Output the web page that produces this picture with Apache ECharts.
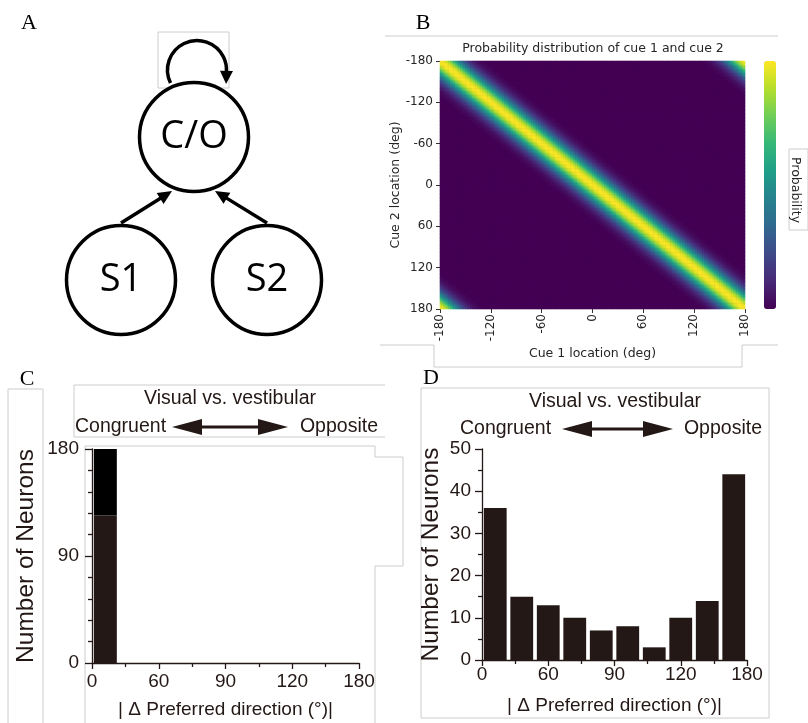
<!DOCTYPE html>
<html>
<head>
<meta charset="utf-8">
<script src="https://cdn.jsdelivr.net/npm/echarts@6/dist/echarts.min.js"></script>
<style>
  html, body { margin: 0; padding: 0; background: #fff; }
  #main { width: 808px; height: 723px; }
</style>
</head>
<body>
<div id="main"></div>
<script>
// ---- panel A: network diagram (positions in panel units) ----
const nodeNames = ['C/O', 'S1', 'S2'];
const nodeX = [194, 121, 267];
const nodeY = [137, 280, 280];
const edgeStarts = [[121, 223], [267, 223]];
const edgeEnds = [[172, 191], [215, 191]];
const selfLoop = [197, 70, 29.5, 154, 27]; // cx, cy, r, start deg, end deg

// ---- panel B: joint probability of cue 1 / cue 2 ----
const cueTicks = [-180, -120, -60, 0, 60, 120, 180];
const cellStep = 2;
// probability by circular |cue1 - cue2|, every 2 deg
const bandProfile = [1.00, 0.99, 0.97, 0.94, 0.89, 0.84, 0.78, 0.71, 0.64, 0.57,
  0.50, 0.43, 0.37, 0.31, 0.26, 0.21, 0.17, 0.13, 0.11, 0.08,
  0.06, 0.05, 0.03, 0.02, 0.02, 0.01];
const viridis = ['#440154', '#482878', '#3e4989', '#31688e', '#26828e',
  '#1f9e89', '#35b779', '#6ece58', '#b5de2b', '#fde725'];

// ---- panels C and D: histograms of |delta preferred direction| ----
const binEdges = [0, 18, 36, 54, 72, 90, 108, 126, 144, 162, 180];
const dirTickLabels = ['0', '60', '90', '120', '180'];
const countsC = [124, 0, 0, 0, 0, 0, 0, 0, 0, 0];
const clippedC = [56, 0, 0, 0, 0, 0, 0, 0, 0, 0];
const countsD = [36, 15, 13, 10, 7, 8, 3, 10, 14, 44];

const ink = '#231815';
const sans = 'Liberation Sans';
const mpl = 'DejaVu Sans';

// heatmap cells
const cueCells = [];
for (let v = -180 + cellStep / 2; v < 180; v += cellStep) cueCells.push(v);
const heatData = [];
cueCells.forEach(function (cx, i) {
  cueCells.forEach(function (cy, j) {
    let d = Math.abs(cx - cy) % 360;
    d = Math.min(d, 360 - d);
    const k = Math.round(d / cellStep);
    heatData.push([i, j, k < bandProfile.length ? bandProfile[k] : 0]);
  });
});

function binData(lows, highs) {
  return highs.map(function (h, i) {
    return [binEdges[i], binEdges[i + 1], lows[i], lows[i] + h];
  });
}
const zeros = countsD.map(function () { return 0; });

function renderBin(params, api) {
  const x0 = api.value(0), x1 = api.value(1);
  const pad = (x1 - x0) * 0.07;
  const p0 = api.coord([x0 + pad, api.value(3)]);
  const p1 = api.coord([x1 - pad, api.value(2)]);
  return {
    type: 'rect',
    shape: { x: p0[0], y: p0[1], width: p1[0] - p0[0], height: p1[1] - p0[1] },
    style: api.style()
  };
}

function arrowHead(tip, ang, len, half) {
  const bx = tip[0] - len * Math.cos(ang), by = tip[1] - len * Math.sin(ang);
  const nx = -Math.sin(ang), ny = Math.cos(ang);
  return {
    type: 'polygon',
    shape: { points: [tip, [bx + nx * half, by + ny * half], [bx - nx * half, by - ny * half]] },
    style: { fill: '#000' }
  };
}

function renderEdge(params, api) {
  const a = api.coord([api.value(0), api.value(1)]);
  const b = api.coord([api.value(2), api.value(3)]);
  const ang = Math.atan2(b[1] - a[1], b[0] - a[0]);
  const len = 14;
  return {
    type: 'group',
    children: [
      { type: 'line', shape: { x1: a[0], y1: a[1], x2: b[0] - len * 0.8 * Math.cos(ang), y2: b[1] - len * 0.8 * Math.sin(ang) },
        style: { stroke: '#000', lineWidth: 3.5 } },
      arrowHead(b, ang, len, 6.5)
    ]
  };
}

function renderLoop(params, api) {
  const c = api.coord([api.value(0), api.value(1)]);
  const r = api.size([api.value(2), 0])[0];
  const a0 = api.value(3) * Math.PI / 180;
  let a1 = api.value(4) * Math.PI / 180;
  if (a1 < a0) a1 += Math.PI * 2;
  const len = 13;
  const aBase = a1 - len / r;
  const base = [c[0] + r * Math.cos(aBase), c[1] + r * Math.sin(aBase)];
  const tang = aBase + Math.PI / 2;
  const tip = [base[0] + len * Math.cos(tang), base[1] + len * Math.sin(tang)];
  return {
    type: 'group',
    children: [
      { type: 'arc', shape: { cx: c[0], cy: c[1], r: r, startAngle: a0, endAngle: aBase + 0.05, clockwise: true },
        style: { stroke: '#000', lineWidth: 3.5, fill: null } },
      arrowHead(tip, tang, len, 6.5)
    ]
  };
}

function dirAxis(gridIndex, labelMargin, nameGap) {
  return {
    type: 'value', gridIndex: gridIndex, min: 0, max: 180, interval: 45,
    axisLine: { lineStyle: { color: ink, width: 1.3 } },
    axisTick: { length: 6, lineStyle: { color: ink, width: 1.3 } },
    minorTick: { show: true, splitNumber: 2, length: 4, lineStyle: { color: ink, width: 1.3 } },
    splitLine: { show: false }, minorSplitLine: { show: false },
    axisLabel: {
      formatter: function (v) { return dirTickLabels[Math.round(v / 45)]; },
      fontSize: 19, color: ink, fontFamily: sans, margin: labelMargin,
      showMinLabel: true, showMaxLabel: true
    },
    name: '| \u0394 Preferred direction (\u00b0)|', nameLocation: 'middle', nameGap: nameGap,
    nameTextStyle: { fontSize: 19, color: ink, fontFamily: sans }
  };
}

function countAxis(gridIndex, max, interval, minorSplit, labelMargin, nameGap) {
  return {
    type: 'value', gridIndex: gridIndex, min: 0, max: max, interval: interval,
    axisLine: { show: true, lineStyle: { color: ink, width: 1.3 } },
    axisTick: { show: true, length: 7, lineStyle: { color: ink, width: 1.3 } },
    minorTick: { show: true, splitNumber: minorSplit, length: 4, lineStyle: { color: ink, width: 1.3 } },
    splitLine: { show: false }, minorSplitLine: { show: false },
    axisLabel: { fontSize: 19, color: ink, fontFamily: sans, margin: labelMargin },
    name: 'Number of Neurons', nameLocation: 'middle', nameGap: nameGap,
    nameTextStyle: { fontSize: 24.5, color: ink, fontFamily: sans }
  };
}

function frame(points) {
  return { type: 'polyline', z: 0, shape: { points: points }, style: { stroke: '#cccccc', lineWidth: 1, fill: null } };
}
function label(text, x, y, font, size, align, color) {
  return { type: 'text', z: 100, x: x, y: y,
    style: { text: text, font: size + 'px "' + font + '"', fill: color || '#000', align: align || 'center', verticalAlign: 'middle' } };
}
function doubleArrow(xa, xb, y) {
  const head = 30, hh = 8, sh = 1.5;
  return { type: 'polygon', z: 100, shape: { points: [
    [xa, y], [xa + head, y - hh], [xa + head, y - sh], [xb - head, y - sh], [xb - head, y - hh],
    [xb, y], [xb - head, y + hh], [xb - head, y + sh], [xa + head, y + sh], [xa + head, y + hh]
  ] }, style: { fill: ink } };
}

const chart = echarts.init(document.getElementById('main'));
chart.setOption({
  animation: false,
  textStyle: { fontFamily: sans },
  grid: [
    { left: 0, top: 0, width: 380, height: 340, outerBoundsMode: 'none' },
    { left: 440, top: 61, width: 305, height: 248, show: true, backgroundColor: '#440154', borderWidth: 0, outerBoundsMode: 'none' },
    { left: 92, top: 449, width: 267, height: 214, outerBoundsMode: 'none' },
    { left: 482, top: 449, width: 265, height: 211, outerBoundsMode: 'none' }
  ],
  xAxis: [
    { type: 'value', gridIndex: 0, min: 0, max: 380, show: false },
    { type: 'category', gridIndex: 1, data: cueCells, show: false, position: 'top' },
    {
      type: 'value', gridIndex: 1, min: -180, max: 180, interval: 60, position: 'bottom',
      axisLine: { show: false }, splitLine: { show: false },
      axisTick: { show: true, length: 4, lineStyle: { color: '#333' } },
      axisLabel: { rotate: 90, fontSize: 12, color: '#262626', fontFamily: mpl, margin: 5, showMinLabel: true, showMaxLabel: true },
      name: 'Cue 1 location (deg)', nameLocation: 'middle', nameGap: 38,
      nameTextStyle: { fontSize: 12.5, color: '#262626', fontFamily: mpl }
    },
    dirAxis(2, 9, 37),
    dirAxis(3, 5, 36)
  ],
  yAxis: [
    { type: 'value', gridIndex: 0, min: 0, max: 340, inverse: true, show: false },
    { type: 'category', gridIndex: 1, data: cueCells, show: false, inverse: true, position: 'right' },
    {
      type: 'value', gridIndex: 1, min: -180, max: 180, interval: 60, inverse: true, position: 'left',
      axisLine: { show: false }, splitLine: { show: false },
      axisTick: { show: true, length: 4, lineStyle: { color: '#333' } },
      axisLabel: { fontSize: 12, color: '#262626', fontFamily: mpl, margin: 7 },
      name: 'Cue 2 location (deg)', nameLocation: 'middle', nameGap: 38,
      nameTextStyle: { fontSize: 12.5, color: '#262626', fontFamily: mpl }
    },
    countAxis(2, 180, 90, 5, 13, 53),
    countAxis(3, 50, 10, 2, 11, 38)
  ],
  visualMap: {
    type: 'continuous', seriesIndex: 3, min: 0, max: 1, calculable: false,
    orient: 'vertical', left: 764, top: 61, itemWidth: 12, itemHeight: 248, padding: 0,
    inRange: { color: viridis }, hoverLink: false
  },
  series: [
    {
      type: 'scatter', xAxisIndex: 0, yAxisIndex: 0, clip: false, z: 3,
      symbol: 'circle', symbolSize: 109,
      itemStyle: { color: '#fff', borderColor: '#000', borderWidth: 3.5, opacity: 1 },
      label: { show: true, position: 'inside', formatter: '{b}', fontSize: 38, color: '#000', fontFamily: 'Open Sans' },
      emphasis: { disabled: true },
      data: nodeNames.map(function (n, i) { return { name: n, value: [nodeX[i], nodeY[i]] }; })
    },
    {
      type: 'custom', xAxisIndex: 0, yAxisIndex: 0, clip: false, z: 4, renderItem: renderEdge,
      data: edgeStarts.map(function (s, i) { return [s[0], s[1], edgeEnds[i][0], edgeEnds[i][1]]; })
    },
    {
      type: 'custom', xAxisIndex: 0, yAxisIndex: 0, clip: false, z: 4, renderItem: renderLoop,
      data: [selfLoop]
    },
    {
      type: 'heatmap', xAxisIndex: 1, yAxisIndex: 1, data: heatData,
      progressive: 0, emphasis: { disabled: true }, itemStyle: { borderWidth: 0 }
    },
    {
      type: 'custom', xAxisIndex: 3, yAxisIndex: 3, renderItem: renderBin,
      itemStyle: { color: ink }, encode: { x: [0, 1], y: [2, 3] },
      data: binData(zeros, countsC)
    },
    {
      type: 'custom', xAxisIndex: 3, yAxisIndex: 3, renderItem: renderBin,
      itemStyle: { color: '#000' }, encode: { x: [0, 1], y: [2, 3] },
      data: binData(countsC, clippedC)
    },
    {
      type: 'custom', xAxisIndex: 4, yAxisIndex: 4, renderItem: renderBin,
      itemStyle: { color: ink }, encode: { x: [0, 1], y: [2, 3] },
      data: binData(zeros, countsD)
    }
  ],
  graphic: [
    // faint layout frames
    frame([[158, 88], [158, 32], [229, 32], [229, 88], [158, 88]]),
    frame([[385, 36], [778, 36]]),
    frame([[380, 345], [434, 345], [434, 367], [742, 367], [742, 345], [778, 345]]),
    frame([[789, 149], [808, 149], [808, 230], [789, 230], [789, 149]]),
    frame([[8, 723], [8, 389], [43, 389], [43, 723]]),
    frame([[385, 385], [74, 385], [74, 437], [385, 437]]),
    frame([[85, 723], [85, 446], [375, 446], [375, 457], [403, 457], [403, 566], [375, 566], [375, 723]]),
    frame([[421, 388], [769, 388], [769, 718], [421, 718], [421, 388]]),
    // panel letters
    label('A', 29, 23, 'Liberation Serif', 22),
    label('B', 423, 23, 'Liberation Serif', 22),
    label('C', 27, 379, 'Liberation Serif', 22),
    label('D', 431, 378, 'Liberation Serif', 22),
    // panel B texts
    label('Probability distribution of cue 1 and cue 2', 593, 49, mpl, 12.5, 'center', '#262626'),
    {
      type: 'text', z: 100, x: 795, y: 190, rotation: -Math.PI / 2,
      style: { text: 'Probability', font: '12.5px "DejaVu Sans"', fill: '#262626', align: 'center', verticalAlign: 'middle' }
    },
    // panels C, D headers
    label('Visual vs. vestibular', 230, 399, sans, 19.5, 'center', ink),
    label('Congruent', 75, 427, sans, 19.5, 'left', ink),
    label('Opposite', 378, 427, sans, 19.5, 'right', ink),
    doubleArrow(172, 288, 427),
    label('Visual vs. vestibular', 615, 402, sans, 19.5, 'center', ink),
    label('Congruent', 460, 429, sans, 19.5, 'left', ink),
    label('Opposite', 762, 429, sans, 19.5, 'right', ink),
    doubleArrow(562, 673, 429)
  ]
});
window.onresize = function () { chart.resize(); };
</script>
</body>
</html>
